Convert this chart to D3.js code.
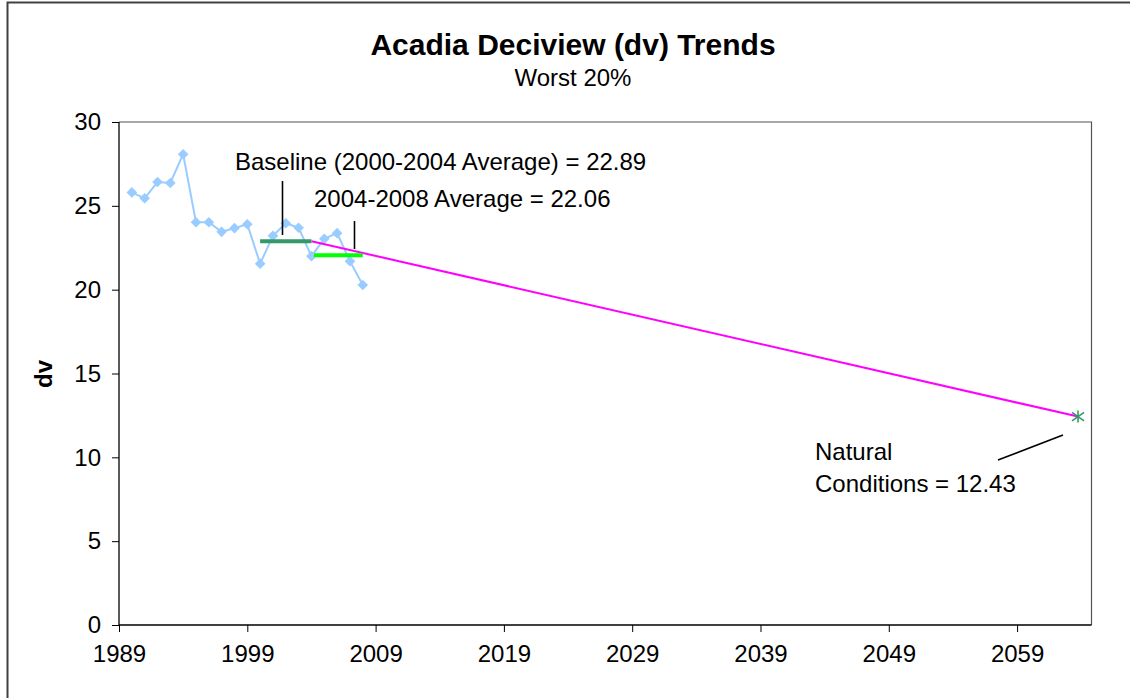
<!DOCTYPE html>
<html><head><meta charset="utf-8">
<script src="https://cdn.jsdelivr.net/npm/d3@7"></script>
<style>body{margin:0;background:#fff}svg{display:block;font-family:"Liberation Sans",Arial,sans-serif}</style>
</head><body><svg id="c" width="1130" height="698"></svg>
<script>
const years = [1990,1991,1992,1993,1994,1995,1996,1997,1998,1999,2000,2001,2002,2003,2004,2005,2006,2007,2008];
const dvValues = [25.8,25.45,26.42,26.36,28.08,24.02,24.02,23.45,23.67,23.9,21.55,23.21,23.96,23.69,22.0,23.03,23.37,21.7,20.28];
const baselineYears = [2000,2004];
const baselineValue = 22.89;
const recentYears = [2004.2,2008];
const recentValue = 22.06;
const glideYears = [2004,2063.75];
const glideValues = [22.89,12.43];
const naturalYear = 2063.75;
const naturalValue = 12.43;
const xTicks = [1989,1999,2009,2019,2029,2039,2049,2059];
const yTicks = [0,5,10,15,20,25,30];

const svg = d3.select("#c");
const L=119, R=1091.5, T=122, B=625;
const x = d3.scaleLinear().domain([1989,2064.8]).range([L,R]);
const y = d3.scaleLinear().domain([0,30]).range([B,T]);

// outer border
svg.append("path").attr("d",`M7.5,698 L7.5,2.5 L1130,2.5`).attr("fill","none").attr("stroke","#404040").attr("stroke-width",2);

// plot border top/right
svg.append("path").attr("d",`M${L},${T} L${R},${T} L${R},${B}`).attr("fill","none").attr("stroke","#555").attr("stroke-width",1.2);

// axes
const xAxis = d3.axisBottom(x).tickValues(xTicks).tickFormat(d3.format("d")).tickSize(7).tickPadding(13);
const gx = svg.append("g").attr("transform",`translate(0,${B})`).call(xAxis);
const yAxis = d3.axisLeft(y).tickValues(yTicks).tickSize(7).tickPadding(11);
const gy = svg.append("g").attr("transform",`translate(${L},0)`).call(yAxis);
[gx,gy].forEach(g=>{
  g.select(".domain").attr("stroke","#000").attr("stroke-width",1.3);
  g.selectAll(".tick line").attr("stroke","#000").attr("stroke-width",1);
  g.selectAll(".tick text").attr("fill","#000").style("font-size","24px").style("font-family",'"Liberation Sans",Arial,sans-serif');
});
gx.select(".domain").attr("d",`M${L},0H${R}`);
gy.select(".domain").attr("d",`M0,${B}V${T}`);

// data series
const line = d3.line().x((d,i)=>x(years[i])).y(d=>y(d));
svg.append("path").attr("d",line(dvValues)).attr("fill","none").attr("stroke","#99CCFF").attr("stroke-width",2);
svg.selectAll(".pt").data(dvValues).enter().append("path")
  .attr("transform",(d,i)=>`translate(${x(years[i])},${y(d)})`)
  .attr("d",d3.symbol(d3.symbolDiamond2,72)()).attr("fill","#99CCFF");

// glide path
svg.append("line").attr("x1",x(glideYears[0])).attr("y1",y(glideValues[0])).attr("x2",x(glideYears[1])).attr("y2",y(glideValues[1]))
  .attr("stroke","#FF00FF").attr("stroke-width",2);

// averages
svg.append("line").attr("x1",x(baselineYears[0])).attr("x2",x(baselineYears[1])).attr("y1",y(baselineValue)).attr("y2",y(baselineValue))
  .attr("stroke","#339966").attr("stroke-width",4);
svg.append("line").attr("x1",x(recentYears[0])).attr("x2",x(recentYears[1])).attr("y1",y(recentValue)).attr("y2",y(recentValue))
  .attr("stroke","#00FF00").attr("stroke-width",4);

// natural marker (star)
const nx=x(naturalYear), ny=y(naturalValue), s=6;
const star = svg.append("g").attr("transform",`translate(${nx},${ny})`).attr("stroke","#339966").attr("stroke-width",1.6);
star.append("line").attr("x1",0).attr("y1",-s).attr("x2",0).attr("y2",s);
star.append("line").attr("x1",-s).attr("y1",-s*0.7).attr("x2",s).attr("y2",s*0.7);
star.append("line").attr("x1",-s).attr("y1",s*0.7).attr("x2",s).attr("y2",-s*0.7);

// leader lines
const ld = (x1,y1,x2,y2)=>svg.append("line").attr("x1",x1).attr("y1",y1).attr("x2",x2).attr("y2",y2).attr("stroke","#000").attr("stroke-width",1.6);
ld(282.5,181,282.5,235);
ld(354.5,221,354.5,249);
ld(998,460,1063,435);

// text
const txt=(t,xx,yy,opts={})=>svg.append("text").attr("x",xx).attr("y",yy).text(t)
  .style("font-size",(opts.size||24)+"px").style("font-weight",opts.bold?"bold":"normal").attr("text-anchor",opts.anchor||"start").attr("fill","#000");
txt("Acadia Deciview (dv) Trends",573,55,{size:30,bold:true,anchor:"middle"});
txt("Worst 20%",573,86,{anchor:"middle"});
txt("Baseline (2000-2004 Average) = 22.89",235,170);
txt("2004-2008 Average = 22.06",314,207);
txt("Natural",815,460);
txt("Conditions = 12.43",815,492);
svg.append("text").attr("transform","translate(52,374) rotate(-90)").attr("text-anchor","middle")
  .style("font-size","24px").style("font-weight","bold").text("dv");
</script></body></html>
